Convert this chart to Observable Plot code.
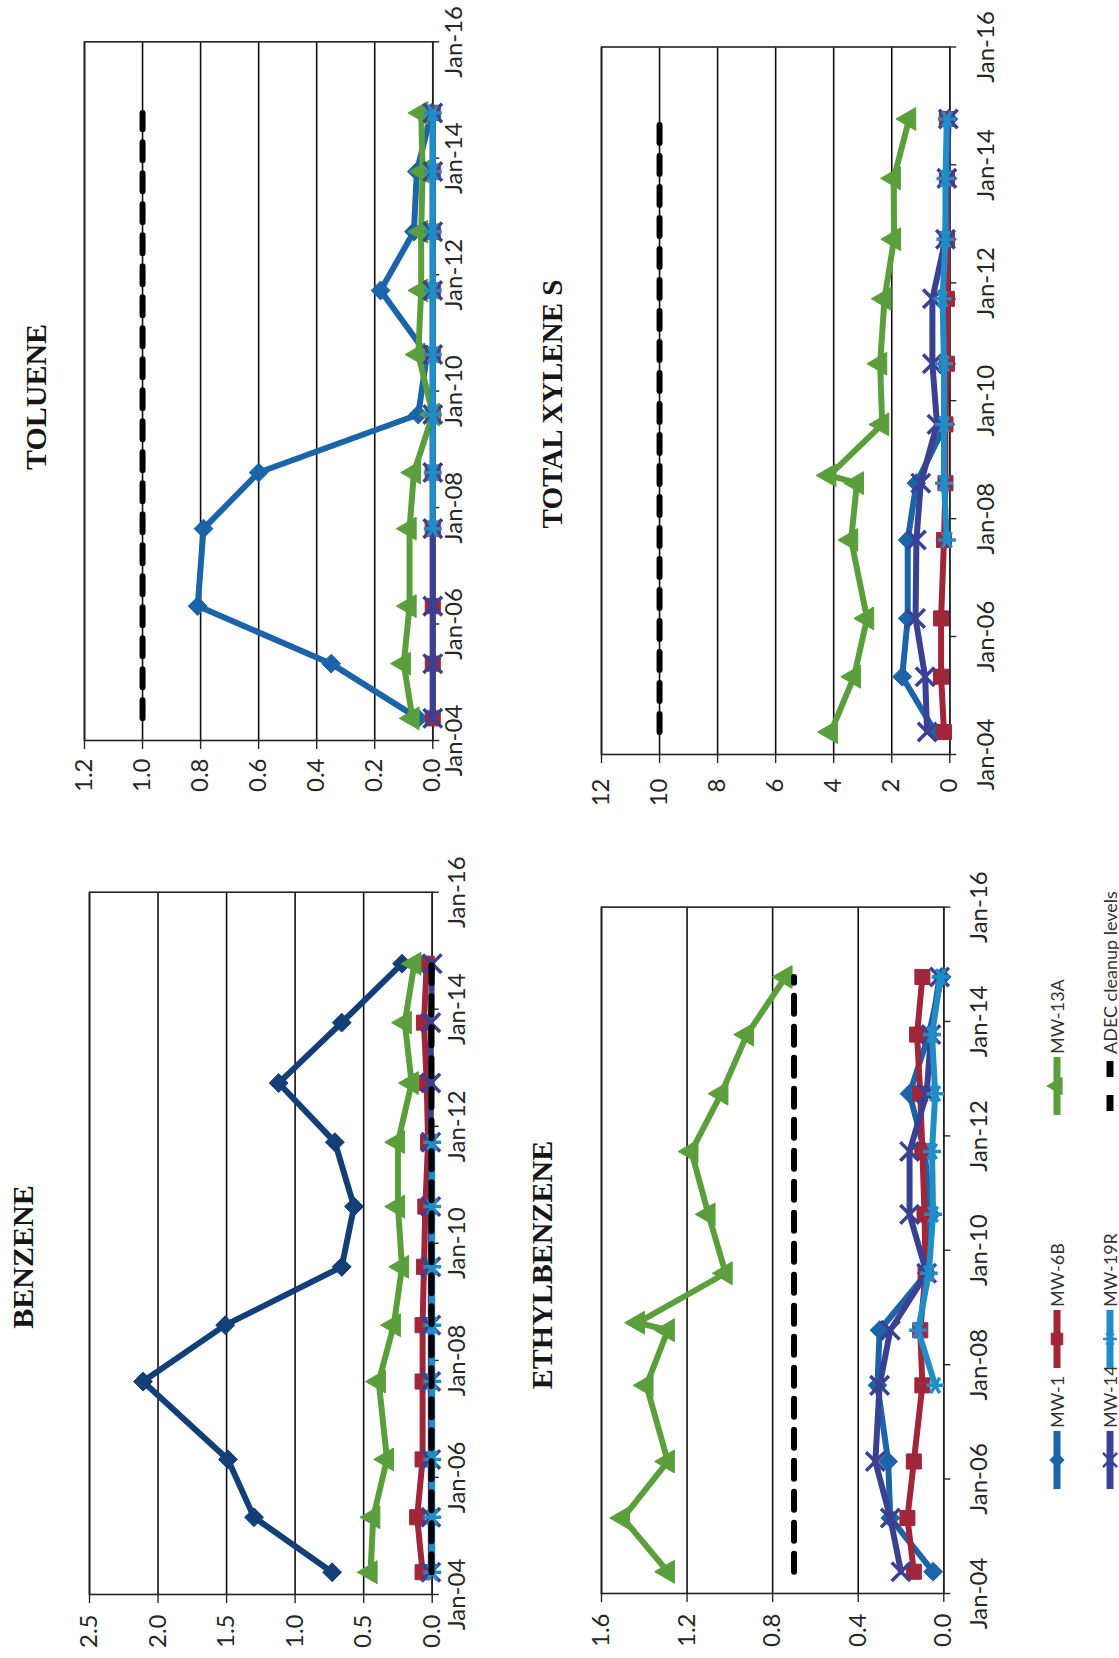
<!DOCTYPE html>
<html><head><meta charset="utf-8">
<script src="https://cdn.jsdelivr.net/npm/d3@7"></script>
<script src="https://cdn.jsdelivr.net/npm/@observablehq/plot@0.6"></script>
<style>
html,body{margin:0;padding:0;background:#fff;overflow:hidden;}
body{width:1119px;height:1658px;position:relative;}
#page{position:absolute;left:0;top:0;width:1658px;height:1119px;transform-origin:0 0;transform:translateY(1658px) rotate(-90deg);font-family:Lato,sans-serif;background:#fff;}
.title{position:absolute;font-family:"Liberation Serif","Times New Roman",serif;font-weight:bold;font-size:30px;white-space:nowrap;transform:translate(-50%,-50%);color:#161616;line-height:1;}
.leg{position:absolute;display:flex;align-items:center;font-family:Lato,sans-serif;font-size:18px;color:#333;white-space:nowrap;transform:translateY(-50%);}
.leg svg{margin-right:3px;}
</style></head><body><div id="page"></div>
<script>
// ---------- data ----------
const sampleDates = ["2004-05-19","2005-04-27","2006-04-23","2007-08-22","2008-08-08","2008-09-25","2009-08-07","2010-08-18","2011-09-24","2012-09-27","2013-10-09","2014-10-12"];
const wells = ["MW-1","MW-6B","MW-13A","MW-14","MW-19R"];
const cleanupName = "ADEC cleanup levels";
const dateTickYears = [2004,2006,2008,2010,2012,2014,2016];

const benzeneTicks = [0,0.5,1.0,1.5,2.0,2.5];
const tolueneTicks = [0,0.2,0.4,0.6,0.8,1.0,1.2];
const ethylTicks = [0,0.4,0.8,1.2,1.6];
const xyleneTicks = [0,2,4,6,8,10,12];

const cleanupLevels = {benzene:0.005, toluene:1.0, ethyl:0.7, xylene:10};

const benzeneMW1  = [0.73,1.30,1.49,2.11,1.51,null,0.66,0.57,0.71,1.12,0.66,0.22];
const benzeneMW6B = [0.07,0.11,0.07,0.07,0.07,null,0.06,0.05,0.03,0.04,0.06,0.04];
const benzeneMW13A= [0.45,0.43,0.33,0.39,0.28,null,0.22,0.25,0.25,0.15,0.20,0.13];
const benzeneMW14 = [0.01,0.01,0.01,0.01,0.01,null,0.01,0.01,0.01,0.01,0.01,0.00];
const benzeneMW19R= [0.00,0.00,0.00,0.00,0.00,null,0.00,0.00,0.00,null,null,null];

const tolueneMW1  = [0.05,0.35,0.81,0.79,0.60,null,0.05,0.02,0.18,0.065,0.055,0.005];
const tolueneMW6B = [0,0,0,0,0,null,0,0,0,0,0,0];
const tolueneMW13A= [0.07,0.10,0.08,0.08,0.065,null,0.0,0.05,0.04,0.04,0.035,0.04];
const tolueneMW14 = [0,0,0,0,0,null,0,0,0,0,0,0];
const tolueneMW19R= [null,null,null,0,0,null,0,0,0,0,0,0];

const ethylMW1  = [0.05,0.25,0.26,0.31,0.30,null,0.08,0.06,0.09,0.16,0.07,0.01];
const ethylMW6B = [0.14,0.17,0.14,0.10,0.11,null,0.085,0.09,0.10,0.11,0.125,0.10];
const ethylMW13A= [1.29,1.50,1.29,1.39,1.29,1.43,1.02,1.10,1.18,1.04,0.92,0.74];
const ethylMW14 = [0.20,0.25,0.32,0.30,0.25,null,0.08,0.16,0.16,0.08,0.06,0.02];
const ethylMW19R= [null,null,null,0.04,0.12,null,0.07,0.05,0.055,0.04,0.055,0.015];

const xyleneMW1  = [0.5,1.64,1.45,1.45,1.15,null,0.15,0.12,0.12,0.10,0.08,0.05];
const xyleneMW6B = [0.2,0.3,0.3,0.2,0.15,null,0.15,0.1,0.1,0.1,0.1,0.1];
const xyleneMW13A= [4.1,3.3,2.85,3.4,3.2,4.15,2.33,2.4,2.25,1.92,1.93,1.4];
const xyleneMW14 = [0.78,0.85,1.18,1.15,1.0,null,0.44,0.6,0.6,0.15,0.1,0.05];
const xyleneMW19R= [null,null,null,0.1,0.2,null,0.2,0.2,0.25,0.15,0.15,0.1];

// ---------- styles ----------
const wellColors = ["#1c64a8","#a1263a","#5a9f3b","#3b4192","#1f8dc8"];
const wellSymbols = ["diamond2","square","triangle","times","asterisk"];
const filled = [true,true,true,false,false];
const symbolFns = {diamond2:d3.symbolDiamond2, square:d3.symbolSquare, triangle:d3.symbolTriangle, times:d3.symbolTimes, asterisk:d3.symbolAsterisk};
const dash = "18,13";

const page = document.getElementById("page");
const dates = sampleDates.map(s => new Date(s));
const dateTicks = dateTickYears.map(y => new Date(Date.UTC(y,0,1)));

function makeChart(cfg){
  const mL = 100, mR = 30, mT = 20, mB = 70;
  const [x0,x1,y0,y1] = cfg.frame;
  const fw = x1-x0, fh = y1-y0;
  const marks = [
    Plot.gridY(cfg.ticks, {stroke:"#111", strokeOpacity:1, strokeWidth:1.6}),
    Plot.frame({stroke:"#222", strokeWidth:1.6}),
    Plot.axisY(cfg.ticks, {tickSize:8, tickPadding:cfg.yPad, tickFormat:d3.format(cfg.fmt), label:null, fontSize:24, strokeWidth:1.4}),
    Plot.axisX(dateTicks, {tickSize:7, tickPadding:cfg.xPad, tickFormat:d3.utcFormat("%b-%y"), label:null, fontSize:24, strokeWidth:1.4})
  ];
  cfg.series.forEach((vals,i)=>{
    const data = vals.map((v,j)=>({date:dates[j], value:v})).filter(d=>d.value!=null);
    const col = (cfg.colors && cfg.colors[i]) || wellColors[i];
    marks.push(Plot.line(data,{x:"date", y:"value", stroke:col, strokeWidth:6, strokeLinejoin:"round"}));
    if (filled[i]) marks.push(Plot.dot(data,{x:"date", y:"value", symbol:wellSymbols[i], r:8.5, fill:col, stroke:col, strokeWidth:1}));
    else marks.push(Plot.dot(data,{x:"date", y:"value", symbol:wellSymbols[i], r:8.5, stroke:col, strokeWidth:3.5}));
  });
  const lvl = [{date:dates[0], value:cfg.level},{date:dates[dates.length-1], value:cfg.level}];
  marks.push(Plot.line(lvl,{x:"date", y:"value", stroke:"#000", strokeWidth:6, strokeDasharray:dash}));
  const svg = Plot.plot({
    width: fw+mL+mR, height: fh+mT+mB,
    marginLeft:mL, marginRight:mR, marginTop:mT, marginBottom:mB,
    style:{fontFamily:"Lato, sans-serif", fontSize:"24px", color:"#262626", background:"transparent", overflow:"visible"},
    x:{type:"utc", domain:[dateTicks[0], dateTicks[dateTicks.length-1]]},
    y:{domain:[0, cfg.ticks[cfg.ticks.length-1]]},
    marks
  });
  svg.style.position = "absolute";
  svg.style.left = (x0-mL)+"px";
  svg.style.top = (y0-mT)+"px";
  page.appendChild(svg);
  const t = document.createElement("div");
  t.className = "title"; t.textContent = cfg.title;
  t.style.left = cfg.titlePos[0]+"px"; t.style.top = cfg.titlePos[1]+"px";
  if (cfg.titleSize) t.style.fontSize = cfg.titleSize+"px";
  page.appendChild(t);
}

makeChart({title:"BENZENE", titlePos:[401,23], frame:[63.4,765.7,89,431.7], ticks:benzeneTicks, fmt:".1f", yPad:12, xPad:9,
  level:cleanupLevels.benzene, series:[benzeneMW1,benzeneMW6B,benzeneMW13A,benzeneMW14,benzeneMW19R], colors:["#123f76"]});
makeChart({title:"TOLUENE", titlePos:[1261,36], frame:[917,1615.7,84,432.3], ticks:tolueneTicks, fmt:".1f", yPad:10, xPad:5,
  level:cleanupLevels.toluene, series:[tolueneMW1,tolueneMW6B,tolueneMW13A,tolueneMW14,tolueneMW19R]});
makeChart({title:"ETHYLBENZENE", titlePos:[393,542], frame:[63.9,750.3,601,943.3], ticks:ethylTicks, fmt:".1f", yPad:12, xPad:19,
  level:cleanupLevels.ethyl, series:[ethylMW1,ethylMW6B,ethylMW13A,ethylMW14,ethylMW19R]});
makeChart({title:"TOTAL XYLENE S", titlePos:[1254,552], titleSize:29, frame:[903.1,1610.6,601,949.3], ticks:xyleneTicks, fmt:"d", yPad:16, xPad:20,
  level:cleanupLevels.xylene, series:[xyleneMW1,xyleneMW6B,xyleneMW13A,xyleneMW14,xyleneMW19R]});

// ---------- legend ----------
const legendCols = [169, 290, 543];
const legendRows = [1057, 1110];
const legendEntries = wells.map((w,i)=>({name:w, i})).concat([{name:cleanupName, i:-1}]);
legendEntries.forEach((e,k)=>{
  const col = k % 3, row = Math.floor(k/3);
  const div = document.createElement("div");
  div.className = "leg";
  div.style.left = legendCols[col]+"px";
  div.style.top = legendRows[row]+"px";
  const W = 58, H = 22;
  const svg = d3.create("svg").attr("width",W).attr("height",H);
  if (e.i >= 0) {
    const c = wellColors[e.i];
    svg.append("line").attr("x1",0).attr("x2",W).attr("y1",H/2).attr("y2",H/2).attr("stroke",c).attr("stroke-width",7);
    const p = d3.symbol(symbolFns[wellSymbols[e.i]], Math.PI*6.5*6.5)();
    const g = svg.append("path").attr("d",p).attr("transform",`translate(${W/2},${H/2})`);
    if (filled[e.i]) g.attr("fill",c).attr("stroke",c); else g.attr("fill","none").attr("stroke",c).attr("stroke-width",2.5);
  } else {
    svg.append("line").attr("x1",4).attr("x2",W-4).attr("y1",H/2).attr("y2",H/2).attr("stroke","#000").attr("stroke-width",7).attr("stroke-dasharray","16,18");
  }
  div.appendChild(svg.node());
  const s = document.createElement("span"); s.textContent = e.name;
  div.appendChild(s);
  page.appendChild(div);
});
</script></body></html>
